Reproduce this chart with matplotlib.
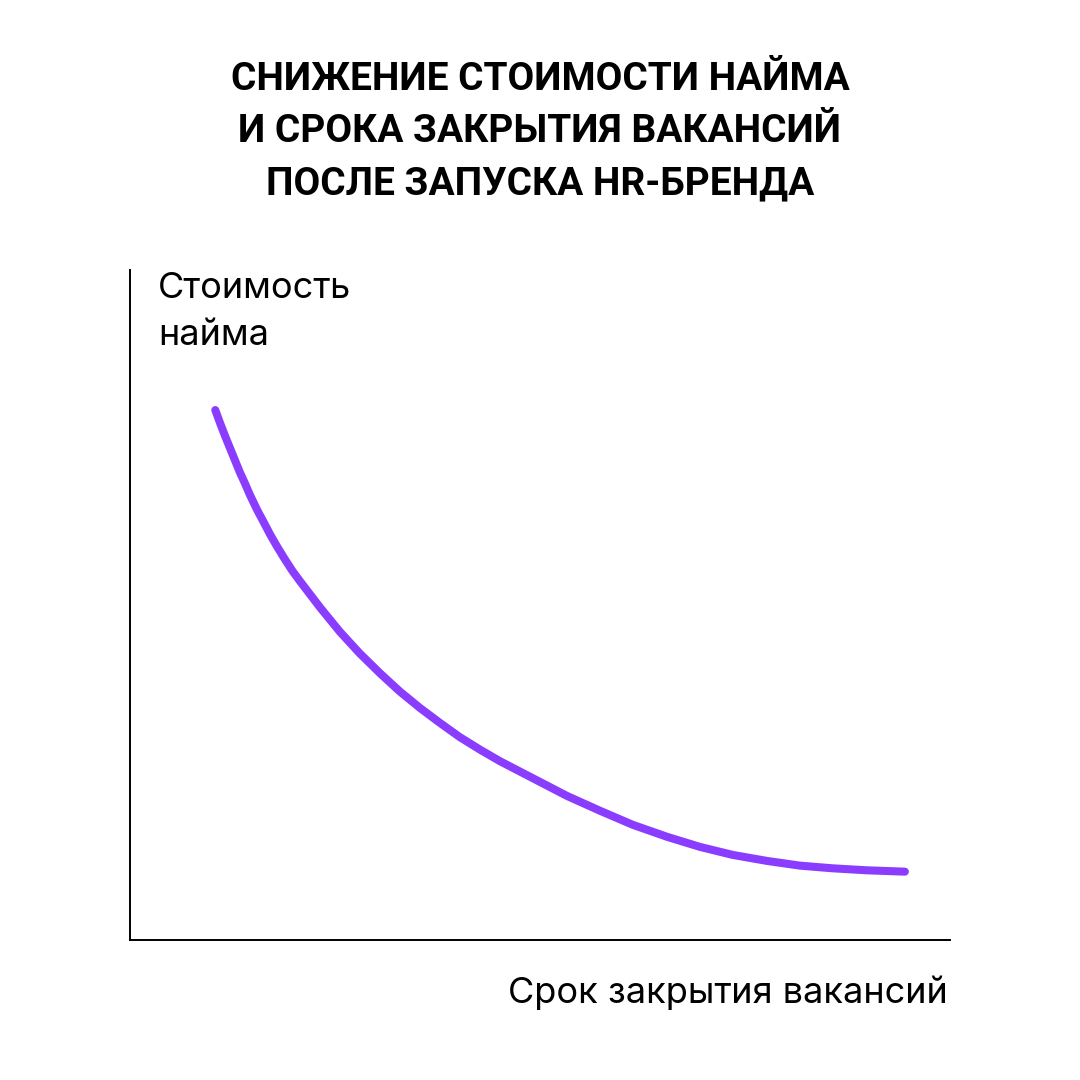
import matplotlib
matplotlib.use("Agg")
import matplotlib.pyplot as plt

# Curve (arbitrary units, both axes span 0..10)
time_to_close = [1.04, 1.10, 1.16, 1.22, 1.28, 1.34, 1.40, 1.46, 1.55, 1.62,
                 1.71, 1.79, 1.89, 1.98, 2.07, 2.32, 2.56, 2.80, 3.05, 3.29,
                 3.54, 3.78, 4.02, 4.27, 4.51, 4.92, 5.33, 5.73, 6.13, 6.55,
                 6.95, 7.35, 7.77, 8.17, 8.57, 8.99, 9.45]
hiring_cost = [7.91, 7.71, 7.52, 7.34, 7.16, 6.98, 6.82, 6.65, 6.42, 6.26,
               6.05, 5.88, 5.68, 5.51, 5.36, 4.96, 4.60, 4.28, 3.98, 3.71,
               3.46, 3.24, 3.03, 2.84, 2.67, 2.41, 2.15, 1.93, 1.72, 1.54,
               1.39, 1.27, 1.18, 1.11, 1.07, 1.04, 1.02]

TITLE = "СНИЖЕНИЕ СТОИМОСТИ НАЙМА\nИ СРОКА ЗАКРЫТИЯ ВАКАНСИЙ\nПОСЛЕ ЗАПУСКА HR-БРЕНДА"
Y_LABEL = ["Стоимость", "найма"]
X_LABEL = "Срок закрытия вакансий"

PURPLE = "#8A3DFF"

fig = plt.figure(figsize=(10.8, 10.8), dpi=100)
fig.patch.set_facecolor("white")

ax = fig.add_axes([130 / 1080, 140 / 1080, 820 / 1080, 670 / 1080])
ax.plot(time_to_close, hiring_cost, color=PURPLE, lw=5.8,
        solid_capstyle="round", solid_joinstyle="round")
ax.set_xlim(0, 10)
ax.set_ylim(0, 10)
ax.set_xticks([])
ax.set_yticks([])
for side in ("top", "right"):
    ax.spines[side].set_visible(False)
for side in ("left", "bottom"):
    ax.spines[side].set_linewidth(1.4)
    ax.spines[side].set_color("black")

fig.text(0.5, 1 - 132 / 1080, TITLE, ha="center", va="center",
         fontsize=28, fontweight="bold", family="Roboto",
         linespacing=1.52, color="black")

# y axis caption, two lines
fig.text(158 / 1080, 1 - 298 / 1080, Y_LABEL[0], ha="left", va="baseline",
         fontsize=26, family="Inter", color="black")
fig.text(158 / 1080, 1 - 345 / 1080, Y_LABEL[1], ha="left", va="baseline",
         fontsize=26, family="Inter", color="black")

fig.text(948 / 1080, 1 - 1003 / 1080, X_LABEL, ha="right", va="baseline",
         fontsize=26, family="Inter", color="black")

fig.savefig("out.png", dpi=100, facecolor="white")
plt.close(fig)
